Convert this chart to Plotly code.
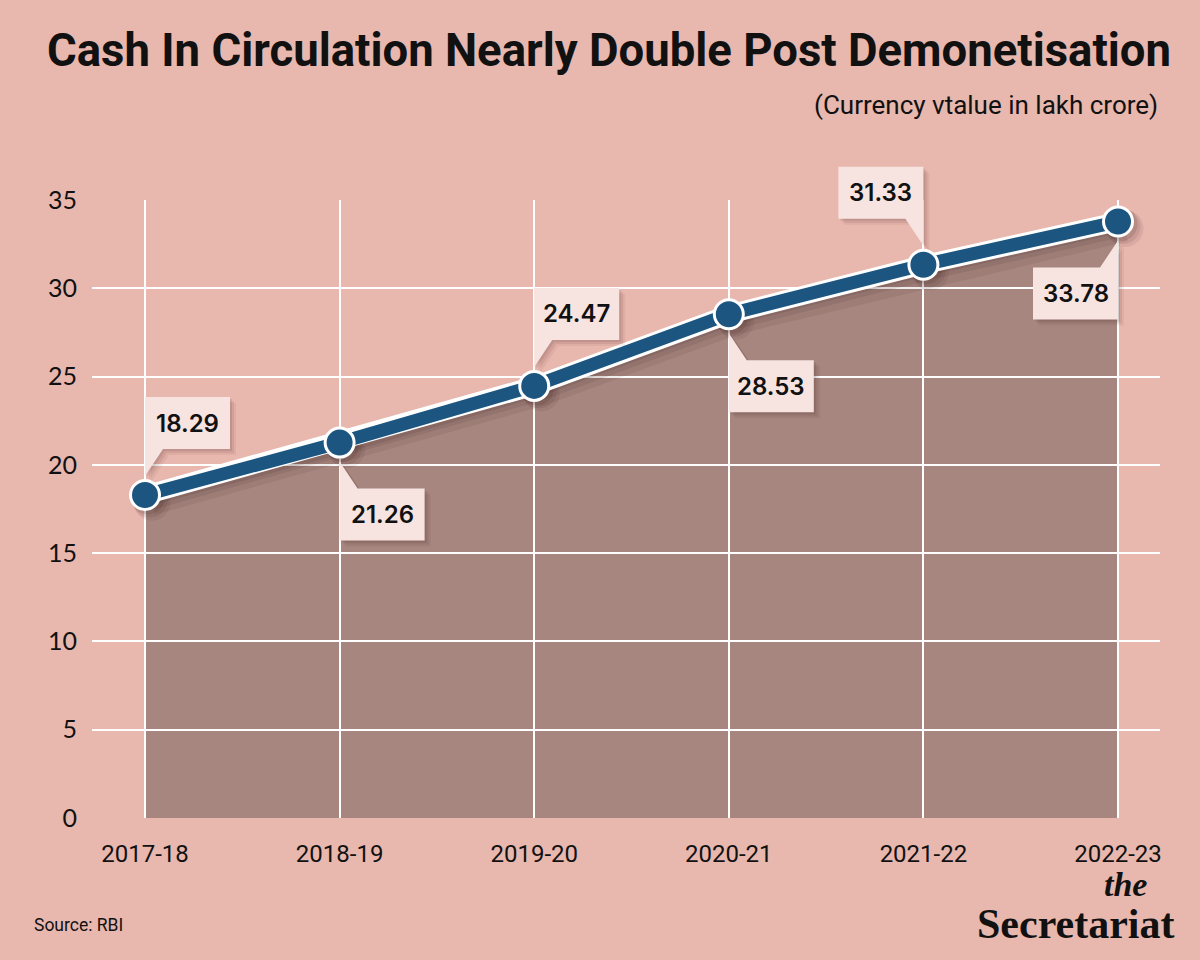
import plotly.graph_objects as go

# ---- data ----
years = ["2017-18", "2018-19", "2019-20", "2020-21", "2021-22", "2022-23"]
values = [18.29, 21.26, 24.47, 28.53, 31.33, 33.78]
y_ticks = [0, 5, 10, 15, 20, 25, 30, 35]
label_text = ["18.29", "21.26", "24.47", "28.53", "31.33", "33.78"]

# ---- style ----
BG = "#e8b7ae"
FILL = "#a6867f"
BLUE = "#1b5580"
BOX = "#f7e3df"
# label placement (style): vertical +1 above / -1 below, horizontal +1 right / -1 left
vpos = [1, -1, 1, -1, 1, -1]
hpos = [1, 1, 1, 1, -1, -1]

xs = list(range(len(years)))
X_RANGE = [-0.2724, 5.2158]
Y_RANGE = [0, 35]


def xdom(x):
    return (x - X_RANGE[0]) / (X_RANGE[1] - X_RANGE[0])


def ydom(y):
    return (y - Y_RANGE[0]) / (Y_RANGE[1] - Y_RANGE[0])


fig = go.Figure()

# fill area as a shape below gridlines
area_path = "M {},0 ".format(xs[0]) + " ".join("L {},{}".format(x, v) for x, v in zip(xs, values)) + " L {},0 Z".format(xs[-1])
fig.add_shape(type="path", path=area_path, xref="x", yref="y", layer="below",
              fillcolor=FILL, line=dict(width=0))

# shadow of the line (offset a few pixels to bottom-right)
px_x = (1160 - 92) / (X_RANGE[1] - X_RANGE[0])
px_y = (818 - 200) / (Y_RANGE[1] - Y_RANGE[0])
for off, a, w in [(7, 0.08, 26), (5, 0.10, 20), (3, 0.12, 16)]:
    fig.add_trace(go.Scatter(x=[x + off / px_x for x in xs], y=[v - off / px_y for v in values],
                             mode="lines+markers", line=dict(color="rgba(60,25,25,%s)" % a, width=w),
                             marker=dict(size=30 + off, color="rgba(60,25,25,%s)" % a),
                             hoverinfo="skip", showlegend=False))

# white outline line
fig.add_trace(go.Scatter(x=xs, y=values, mode="lines", line=dict(color="white", width=19),
                         hoverinfo="skip", showlegend=False))
# blue line + markers
fig.add_trace(go.Scatter(x=xs, y=values, mode="lines+markers",
                         line=dict(color=BLUE, width=13),
                         marker=dict(size=29, color=BLUE, line=dict(color="white", width=3)),
                         showlegend=False, cliponaxis=False))

# callouts (anchored in axis-domain units so they are not clipped by the plot area)
BW, BT, BB, TIP, TW = 85, 98, 46, 19, 18
for x, v, t, vp, hp in zip(xs, values, label_text, vpos, hpos):
    pts = [(0, TIP), (TW, BB), (BW, BB), (BW, BT), (0, BT)]
    pts = [(px * hp, py * vp) for px, py in pts]
    path = "M " + " L ".join("{},{}".format(a, b) for a, b in pts) + " Z"
    for so, al in [(6, 0.06), (4, 0.08), (2, 0.10)]:
        spts = [(a + so, b - so) for a, b in pts]
        spath = "M " + " L ".join("{},{}".format(a, b) for a, b in spts) + " Z"
        fig.add_shape(type="path", xsizemode="pixel", ysizemode="pixel",
                      xanchor=xdom(x), yanchor=ydom(v),
                      xref="x domain", yref="y domain", path=spath,
                      fillcolor="rgba(60,25,25,%s)" % al, line=dict(width=0), layer="above")
    fig.add_shape(type="path", xsizemode="pixel", ysizemode="pixel",
                  xanchor=xdom(x), yanchor=ydom(v),
                  xref="x domain", yref="y domain", path=path, fillcolor=BOX,
                  line=dict(width=0), layer="above")
    fig.add_annotation(x=x, y=v, xref="x", yref="y", text=t, showarrow=False,
                       xshift=hp * BW / 2, yshift=vp * (BT + BB) / 2,
                       font=dict(family="Inter", size=24, color="#111111", weight=600))

# texts
fig.add_annotation(xref="paper", yref="paper", x=(45 - 92) / 1068, y=(818 - 50) / 618,
                   xanchor="left", yanchor="middle", showarrow=False,
                   text="Cash In Circulation Nearly Double Post Demonetisation",
                   font=dict(family="Roboto", size=45.5, color="#111111", weight=700))
fig.add_annotation(xref="paper", yref="paper", x=(1160 - 92) / 1068, y=(818 - 105) / 618,
                   xanchor="right", yanchor="middle", showarrow=False,
                   text="(Currency vtalue in lakh crore)",
                   font=dict(family="Roboto", size=26, color="#111111"))
fig.add_annotation(xref="paper", yref="paper", x=(32 - 92) / 1068, y=(818 - 925) / 618,
                   xanchor="left", yanchor="middle", showarrow=False,
                   text="Source: RBI", font=dict(family="Roboto", size=17.5, color="#111111"))
fig.add_annotation(xref="paper", yref="paper", x=(1149 - 92) / 1068, y=(818 - 884) / 618,
                   xanchor="right", yanchor="middle", showarrow=False,
                   text="<b><i>the</i></b>", font=dict(family="Liberation Serif", size=34, color="#111111"))
fig.add_annotation(xref="paper", yref="paper", x=(1176 - 92) / 1068, y=(818 - 924) / 618,
                   xanchor="right", yanchor="middle", showarrow=False,
                   text="<b>Secretariat</b>", font=dict(family="Liberation Serif", size=42, color="#111111"))

fig.update_layout(
    width=1200, height=960,
    margin=dict(l=92, r=40, t=200, b=142),
    paper_bgcolor=BG, plot_bgcolor=BG,
    showlegend=False,
    xaxis=dict(range=X_RANGE, tickvals=xs, ticktext=years, showgrid=True, gridcolor="white",
               gridwidth=2, zeroline=False, showline=False, ticks="outside", ticklen=14,
               tickcolor="rgba(0,0,0,0)", tickfont=dict(family="Roboto", size=24, color="#111111"),
               fixedrange=True),
    yaxis=dict(range=Y_RANGE, tickvals=y_ticks, showgrid=True, gridcolor="white", gridwidth=2,
               zeroline=False, showline=False, ticks="outside", ticklen=9,
               tickcolor="rgba(0,0,0,0)", tickfont=dict(family="Lato", size=25, color="#111111"),
               fixedrange=True),
)

fig.write_html("out.html", config={"displayModeBar": False},
               post_script="document.body.style.margin='0';")
